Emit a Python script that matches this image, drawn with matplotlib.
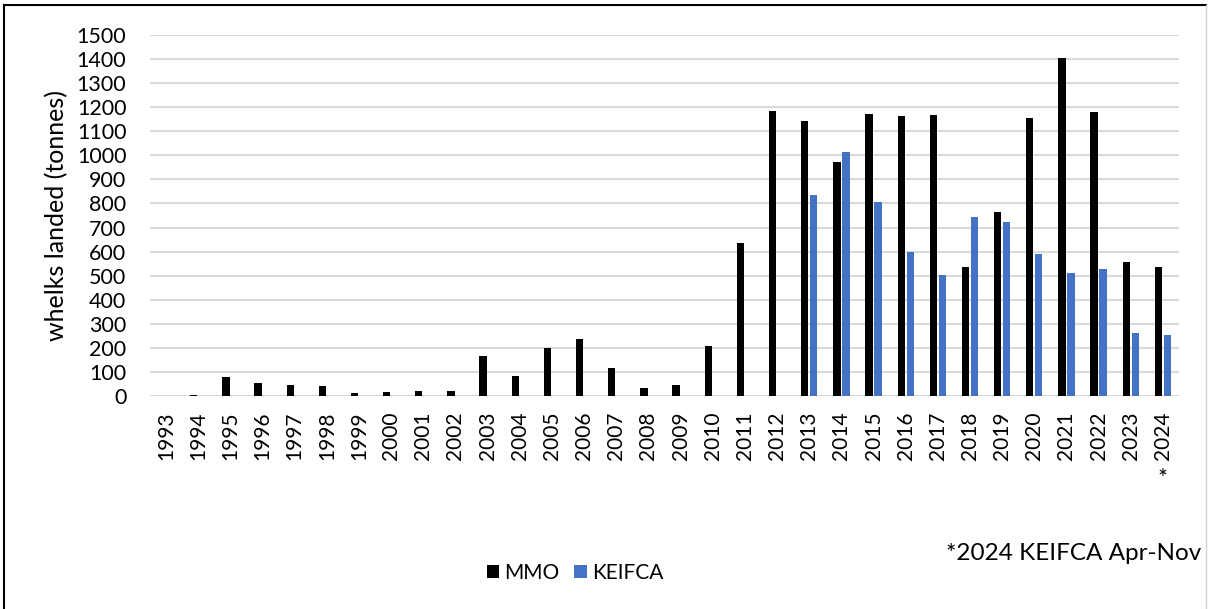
import numpy as np
import matplotlib
matplotlib.use("Agg")
import matplotlib.pyplot as plt
from matplotlib.patches import Patch
from matplotlib.lines import Line2D
import matplotlib.transforms as mtransforms

plt.rcParams['font.family'] = ['Lato', 'DejaVu Sans']

years = [str(y) for y in range(1993, 2025)]
mmo = [0, 4, 78, 57, 47, 44, 12, 18, 22, 22, 169, 83, 202, 239, 119, 33, 46, 207,
       636, 1185, 1141, 973, 1172, 1161, 1167, 536, 765, 1156, 1403, 1181, 557, 535]
keifca = [np.nan] * 20 + [834, 1013, 807, 599, 503, 744, 721, 592, 511, 528, 264, 254]
yticks = list(range(0, 1501, 100))
series_names = ["MMO", "KEIFCA"]
colors = ["#000000", "#4472C4"]

W, H = 1208, 609
fig = plt.figure(figsize=(W / 100, H / 100), dpi=100)
ax = fig.add_axes([150 / W, 1 - 396.3 / H, (1179 - 150) / W, (396.3 - 34.7) / H])

x = np.arange(len(years))
off = 0.14
bw = 0.227
ax.bar(x - off, mmo, width=bw, color=colors[0], zorder=3)
ax.bar(x + off, keifca, width=bw, color=colors[1], zorder=3)

ax.set_xlim(-0.5, len(years) - 0.5)
ax.set_ylim(0, 1500)
ax.set_yticks(yticks)
ax.set_yticklabels([str(v) for v in yticks], fontsize=15.5)
ax.set_xticks(x)
ax.set_xticklabels(years, rotation=90, fontsize=15)
ax.tick_params(axis='both', length=0)
ax.tick_params(axis='y', pad=17)
ax.tick_params(axis='x', pad=11)
for s in ax.spines.values():
    s.set_visible(False)
ax.grid(axis='y', color='#d9d9d9', linewidth=1.5, zorder=0)
ax.set_axisbelow(True)
ax.set_ylabel("whelks landed (tonnes)", fontsize=18, labelpad=6)

trans = mtransforms.blended_transform_factory(ax.transData, fig.transFigure)
ax.text(x[-1], 1 - 478 / H, "*", transform=trans, ha='center', va='center', fontsize=17)

handles = [Patch(facecolor=c, edgecolor='none') for c in colors]
fig.legend(handles, series_names, loc='center', bbox_to_anchor=(575 / W, 1 - 573 / H),
           ncol=2, frameon=False, fontsize=15, handlelength=0.6, handleheight=0.6,
           handletextpad=0.25, columnspacing=0.7)

fig.text(1201 / W, 1 - 554 / H, "*2024 KEIFCA Apr-Nov", ha='right', va='center', fontsize=17.5)

# outer frame
fig.add_artist(Line2D([4 / W, 4 / W], [0, 1 - 5 / H], transform=fig.transFigure, color='black', lw=1.5))
fig.add_artist(Line2D([4 / W, 1206 / W], [1 - 5 / H, 1 - 5 / H], transform=fig.transFigure, color='black', lw=1.5))
fig.add_artist(Line2D([1206 / W, 1206 / W], [0, 1 - 5 / H], transform=fig.transFigure, color='#d0d0d0', lw=1.0))

fig.savefig("out.png", dpi=100)
